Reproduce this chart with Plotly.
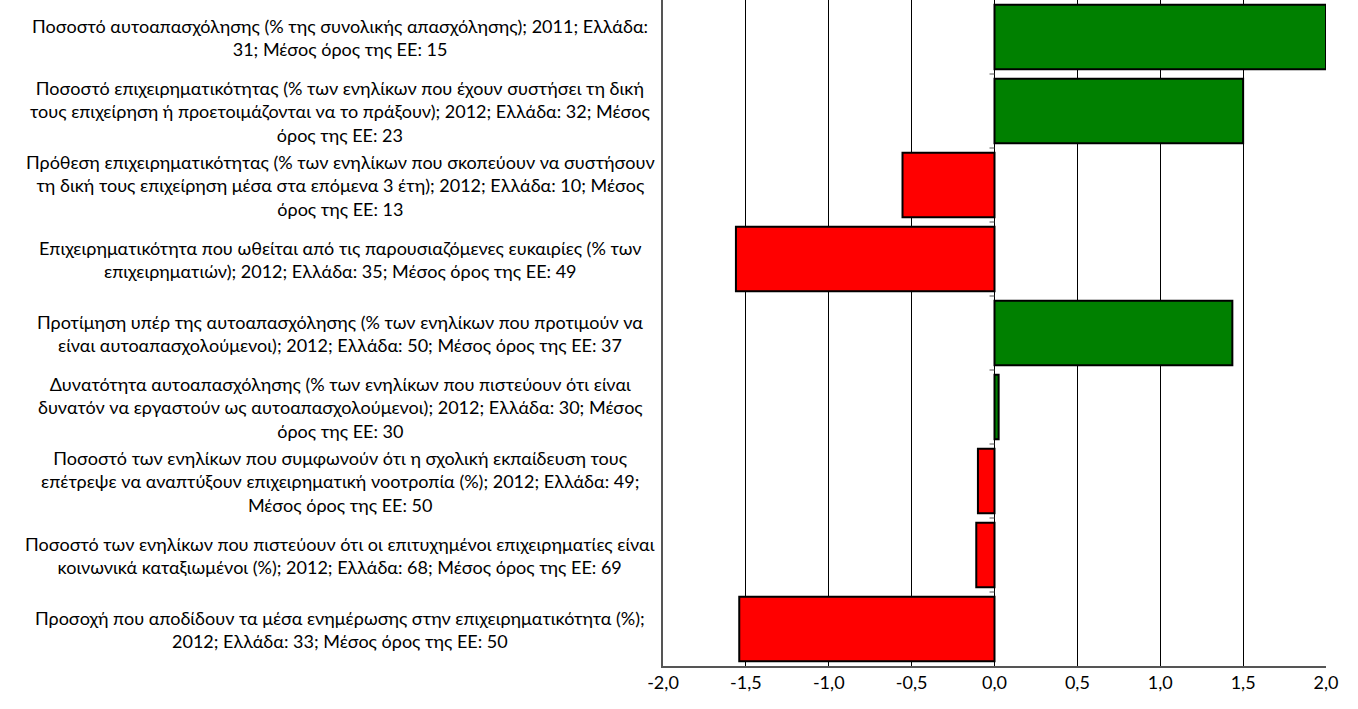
import plotly.graph_objects as go

categories = [
    "Ποσοστό αυτοαπασχόλησης (% της συνολικής απασχόλησης); 2011; Ελλάδα:<br>31; Μέσος όρος της ΕΕ: 15",
    "Ποσοστό επιχειρηματικότητας (% των ενηλίκων που έχουν συστήσει τη δική<br>τους επιχείρηση ή προετοιμάζονται να το πράξουν); 2012; Ελλάδα: 32; Μέσος<br>όρος της ΕΕ: 23",
    "Πρόθεση επιχειρηματικότητας (% των ενηλίκων που σκοπεύουν να συστήσουν<br>τη δική τους επιχείρηση μέσα στα επόμενα 3 έτη); 2012; Ελλάδα: 10; Μέσος<br>όρος της ΕΕ: 13",
    "Επιχειρηματικότητα που ωθείται από τις παρουσιαζόμενες ευκαιρίες (% των<br>επιχειρηματιών); 2012; Ελλάδα: 35; Μέσος όρος της ΕΕ: 49",
    "Προτίμηση υπέρ της αυτοαπασχόλησης (% των ενηλίκων που προτιμούν να<br>είναι αυτοαπασχολούμενοι); 2012; Ελλάδα: 50; Μέσος όρος της ΕΕ: 37",
    "Δυνατότητα αυτοαπασχόλησης (% των ενηλίκων που πιστεύουν ότι είναι<br>δυνατόν να εργαστούν ως αυτοαπασχολούμενοι); 2012; Ελλάδα: 30; Μέσος<br>όρος της ΕΕ: 30",
    "Ποσοστό των ενηλίκων που συμφωνούν ότι η σχολική εκπαίδευση τους<br>επέτρεψε να αναπτύξουν επιχειρηματική νοοτροπία (%); 2012; Ελλάδα: 49;<br>Μέσος όρος της ΕΕ: 50",
    "Ποσοστό των ενηλίκων που πιστεύουν ότι οι επιτυχημένοι επιχειρηματίες είναι<br>κοινωνικά καταξιωμένοι (%); 2012; Ελλάδα: 68; Μέσος όρος της ΕΕ: 69",
    "Προσοχή που αποδίδουν τα μέσα ενημέρωσης στην επιχειρηματικότητα (%);<br>2012; Ελλάδα: 33; Μέσος όρος της ΕΕ: 50",
]
values = [2.0, 1.50, -0.555, -1.56, 1.435, 0.025, -0.10, -0.11, -1.54]
tick_vals = [-2.0, -1.5, -1.0, -0.5, 0.0, 0.5, 1.0, 1.5, 2.0]
tick_text = ["-2,0", "-1,5", "-1,0", "-0,5", "0,0", "0,5", "1,0", "1,5", "2,0"]

FONT = "Lato"
idx = list(range(len(categories)))
colors = ["#008000" if v >= 0 else "#FF0000" for v in values]

fig = go.Figure()
fig.add_trace(go.Bar(
    x=values, y=idx, orientation="h",
    marker=dict(color=colors, line=dict(color="black", width=2)),
    width=0.87, hoverinfo="skip",
))

for i, label in zip(idx, categories):
    fig.add_annotation(
        text=label, xref="paper", yref="y", x=-0.487, y=i,
        xanchor="center", yanchor="middle", align="center",
        showarrow=False, font=dict(family=FONT, size=18, color="black"),
    )

for i in idx[:-1]:
    fig.add_shape(type="line", xref="x", yref="y", x0=-0.03, x1=0, y0=i + 0.5, y1=i + 0.5,
                  line=dict(color="#555555", width=1))

fig.update_layout(
    width=1358, height=709,
    margin=dict(l=663, r=32, t=0, b=43),
    paper_bgcolor="white", plot_bgcolor="white",
    showlegend=False,
    xaxis=dict(
        range=[-2, 2], tickvals=tick_vals, ticktext=tick_text,
        showgrid=True, gridcolor="black", gridwidth=1, zeroline=False,
        showline=True, linecolor="#555555", linewidth=1.5,
        ticks="", tickfont=dict(family=FONT, size=18, color="black"),
    ),
    yaxis=dict(
        range=[8.5, -0.5], showticklabels=False, showgrid=False, zeroline=False,
        showline=True, linecolor="#555555", linewidth=1.5, ticks="",
    ),
)

fig.write_html("out.html", config={"displayModeBar": False},
               post_script="document.body.style.margin='0';")
